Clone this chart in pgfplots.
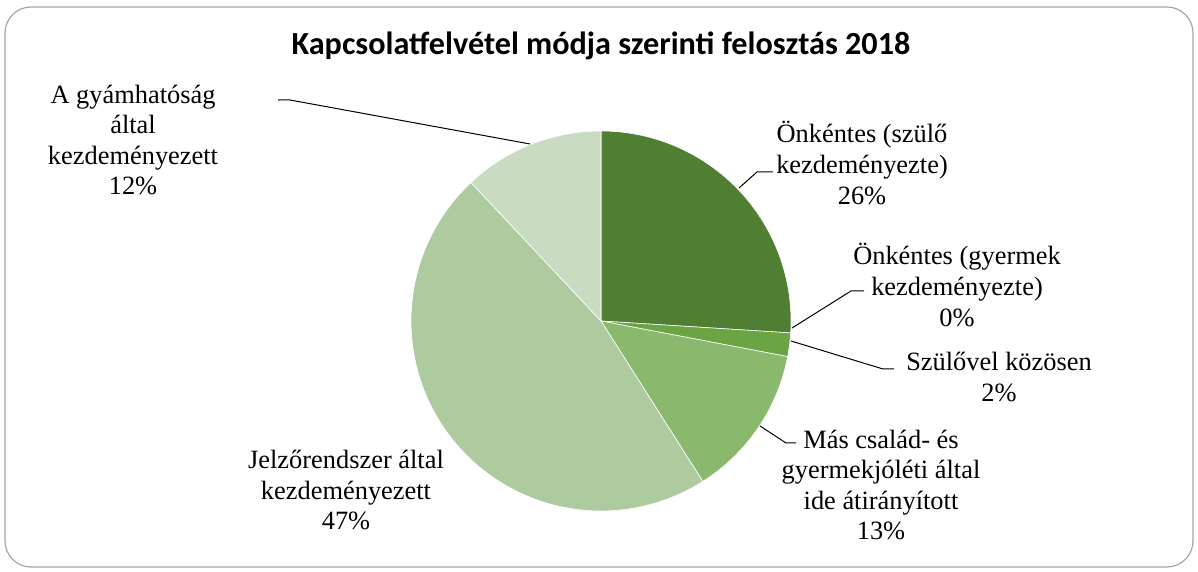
\documentclass[border=0pt]{standalone}
\usepackage{pgfplots}
\pgfplotsset{compat=1.18}
\usepackage{fontspec}
\setmainfont{Liberation Serif}
\newfontfamily\titlefont{Carlito}
\definecolor{cA}{HTML}{507E32}
\definecolor{cB}{HTML}{6AA443}
\definecolor{cC}{HTML}{8AB96E}
\definecolor{cD}{HTML}{AECA9F}
\definecolor{cE}{HTML}{C9DBC0}
\definecolor{frame}{HTML}{A6A6A6}
\newcommand\lab{\fontsize{13.2}{15.3}\selectfont}
% percentages (clockwise from 12 o'clock)
\def\pA{26}\def\pB{0}\def\pC{2}\def\pD{13}\def\pE{47}\def\pF{12}
\begin{document}
\begin{tikzpicture}
\begin{axis}[
  scale only axis, width=599pt, height=286pt,
  xmin=0, xmax=1198, ymin=0, ymax=572,
  axis lines=none, clip=false,
  samples=80,
]
\coordinate (bl) at (axis cs:0,0);
\coordinate (tr) at (axis cs:1198,572);
\draw[frame, line width=0.6pt, rounded corners=13pt] (axis cs:5,5) rectangle (axis cs:1193,565);
% slices: angles from 90 going clockwise, 3.6 deg per percent
\addplot[fill=cA, draw=white, line width=0.3pt, domain={90-3.6*(\pA)}:90]
  ({601+190*cos(x)},{251+190*sin(x)}) -- (axis cs:601,251) -- cycle;
\addplot[fill=cB, draw=white, line width=0.3pt, domain={90-3.6*(\pA+\pB+\pC)}:{90-3.6*(\pA+\pB)}]
  ({601+190*cos(x)},{251+190*sin(x)}) -- (axis cs:601,251) -- cycle;
\addplot[fill=cC, draw=white, line width=0.3pt, domain={90-3.6*(\pA+\pB+\pC+\pD)}:{90-3.6*(\pA+\pB+\pC)}]
  ({601+190*cos(x)},{251+190*sin(x)}) -- (axis cs:601,251) -- cycle;
\addplot[fill=cD, draw=white, line width=0.3pt, domain={90-3.6*(\pA+\pB+\pC+\pD+\pE)}:{90-3.6*(\pA+\pB+\pC+\pD)}]
  ({601+190*cos(x)},{251+190*sin(x)}) -- (axis cs:601,251) -- cycle;
\addplot[fill=cE, draw=white, line width=0.3pt, domain={90-3.6*(\pA+\pB+\pC+\pD+\pE+\pF)}:{90-3.6*(\pA+\pB+\pC+\pD+\pE)}]
  ({601+190*cos(x)},{251+190*sin(x)}) -- (axis cs:601,251) -- cycle;
% leader lines
\addplot[black, line width=0.5pt, mark=none] coordinates {(739,384) (757,400) (773,400)};
\addplot[black, line width=0.5pt, mark=none] coordinates {(792,244) (851,281) (864,281)};
\addplot[black, line width=0.5pt, mark=none] coordinates {(791,231) (883,203) (894,203)};
\addplot[black, line width=0.5pt, mark=none] coordinates {(760,146) (786,129) (796,129)};
\addplot[black, line width=0.5pt, mark=none] coordinates {(530,428) (290,472) (278,472)};
% labels
\node[align=center, font=\lab, inner sep=0pt] at (axis cs:862,409) {Önkéntes (szülő\\kezdeményezte)\\26\%};
\node[align=center, font=\lab, inner sep=0pt] at (axis cs:957,287) {Önkéntes (gyermek\\kezdeményezte)\\0\%};
\node[align=center, font=\lab, inner sep=0pt] at (axis cs:999,195) {Szülővel közösen\\2\%};
\node[align=center, font=\lab, inner sep=0pt] at (axis cs:881,87) {Más család- és\\gyermekjóléti által\\ide átirányított\\13\%};
\node[align=center, font=\lab, inner sep=0pt] at (axis cs:346,82) {Jelzőrendszer által\\kezdeményezett\\47\%};
\node[align=center, font=\lab, inner sep=0pt] at (axis cs:133,432) {A gyámhatóság\\által\\kezdeményezett\\12\%};
\node[font=\titlefont\bfseries\fontsize{16.1}{18}\selectfont, inner sep=0pt] at (axis cs:601,526) {Kapcsolatfelvétel módja szerinti felosztás 2018};
\end{axis}
\pgfresetboundingbox
\path (bl) rectangle (tr);
\end{tikzpicture}
\end{document}
